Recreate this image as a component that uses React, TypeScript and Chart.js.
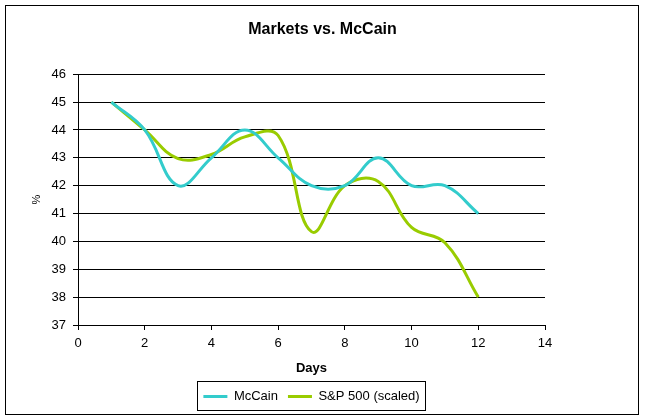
import React, { useEffect, useRef } from "react";
import { Chart, registerables } from "chart.js";

Chart.register(...registerables);

const days = [1, 2, 3, 4, 5, 6, 7, 8, 9, 10, 11, 12];
const mccain = [45, 44, 42, 43, 44, 43, 42, 42, 43, 42, 42, 41];
const sp500 = [45, 44, 42.97, 43.12, 43.75, 43.8, 40.35, 42.0, 42.15, 40.5, 39.95, 38];
const seriesNames = ["McCain", "S&P 500 (scaled)"];
const seriesColors = ["#33CCCC", "#99CC00"];
const chartTitle = "Markets vs. McCain";
const xTitle = "Days";
const yTitle = "%";

const FONT = "'Liberation Sans', Arial, sans-serif";

export default function App() {
  const ref = useRef<HTMLCanvasElement>(null);

  useEffect(() => {
    document.body.style.margin = "0";
    const canvas = ref.current;
    if (!canvas) return;

    const frame = {
      id: "frame",
      afterDraw(chart: any) {
        const ctx = chart.ctx;
        ctx.save();
        ctx.strokeStyle = "#000";
        ctx.lineWidth = 1;
        ctx.strokeRect(5.5, 5.5, 633, 409);
        const hb = chart.legend && chart.legend.legendHitBoxes;
        if (hb && hb.length) {
          const l = Math.min(...hb.map((h: any) => h.left)) - 6;
          const r = Math.max(...hb.map((h: any) => h.left + h.width)) + 6;
          const t = hb[0].top - 9;
          const b = hb[0].top + hb[0].height + 7;
          ctx.strokeRect(Math.round(l) + 0.5, Math.round(t) + 0.5, Math.round(r - l), Math.round(b - t));
        }
        ctx.restore();
      },
    };

    const makeData = (vals: number[]) => days.map((d, i) => ({ x: d, y: vals[i] }));

    const chart = new Chart(canvas, {
      type: "line",
      data: {
        datasets: [
          {
            label: seriesNames[0],
            data: makeData(mccain),
            borderColor: seriesColors[0],
            backgroundColor: seriesColors[0],
            borderWidth: 3,
            pointRadius: 0,
            tension: 0.4,
            fill: false,
          },
          {
            label: seriesNames[1],
            data: makeData(sp500),
            borderColor: seriesColors[1],
            backgroundColor: seriesColors[1],
            borderWidth: 3,
            pointRadius: 0,
            tension: 0.4,
            fill: false,
          },
        ],
      },
      options: {
        animation: false,
        responsive: false,
        devicePixelRatio: 1,
        layout: { padding: { left: 0, right: 0, top: 0, bottom: 7 } },
        plugins: {
          title: {
            display: true,
            text: chartTitle,
            color: "#000",
            font: { family: FONT, size: 16, weight: "bold" },
            padding: { top: 20, bottom: 35 },
          },
          legend: {
            display: true,
            position: "bottom",
            fullSize: false,
            labels: {
              usePointStyle: true,
              pointStyle: "line",
              pointStyleWidth: 24,
              boxHeight: 13,
              padding: 10,
              color: "#000",
              font: { family: FONT, size: 13 },
            },
          },
          tooltip: { enabled: false },
        },
        scales: {
          x: {
            type: "linear",
            min: 0,
            max: 14,
            ticks: { stepSize: 2, color: "#000", font: { family: FONT, size: 13 }, padding: 6, maxRotation: 0 },
            grid: { drawOnChartArea: false, drawTicks: true, tickLength: 5, color: "#000" },
            border: { display: true, color: "#000", width: 1 },
            title: {
              display: true,
              text: xTitle,
              color: "#000",
              font: { family: FONT, size: 13, weight: "bold" },
              padding: { top: 0, bottom: 4 },
            },
            afterFit: (scale: any) => {
              scale.height = 55;
            },
          },
          y: {
            type: "linear",
            position: "left",
            min: 37,
            max: 46,
            ticks: { stepSize: 1, color: "#000", font: { family: FONT, size: 13 }, padding: 7 },
            grid: { drawTicks: true, tickLength: 5, color: "#000" },
            border: { display: true, color: "#000", width: 1 },
            title: {
              display: true,
              text: yTitle,
              color: "#000",
              font: { family: FONT, size: 11 },
              padding: { top: 30, bottom: 0 },
            },
            afterFit: (scale: any) => {
              scale.width = 78;
            },
          },
          spacer: {
            type: "linear",
            position: "right",
            min: 0,
            max: 1,
            display: true,
            ticks: { display: false },
            grid: { display: false, drawTicks: false },
            border: { display: false },
            title: { display: false },
            afterFit: (scale: any) => {
              scale.width = 100;
            },
          },
        },
      },
      plugins: [frame],
    });

    return () => chart.destroy();
  }, []);

  return <canvas ref={ref} width={645} height={420} style={{ display: "block", width: 645, height: 420 }} />;
}
